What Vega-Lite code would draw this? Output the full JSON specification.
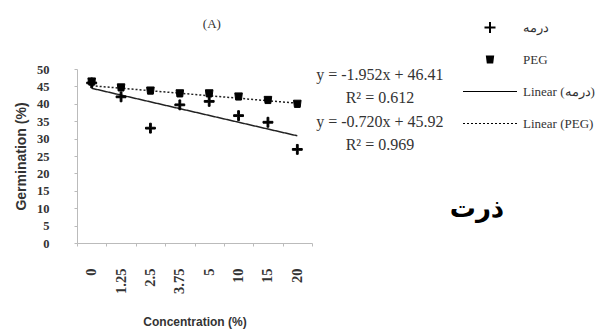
{
  "$schema": "https://vega.github.io/schema/vega-lite/v6.json",
  "width": 235,
  "height": 174,
  "autosize": {"type": "none"},
  "padding": {"left": 77, "top": 69, "right": 299, "bottom": 88},
  "background": "white",
  "config": {"view": {"stroke": null}},
  "layer": [
    {
      "layer": [
        {
          "data": {"values": [
            {"concentration": "0", "value": 44.46, "series": "Linear (درمه)"},
            {"concentration": "20", "value": 30.8, "series": "Linear (درمه)"},
            {"concentration": "0", "value": 45.2, "series": "Linear (PEG)"},
            {"concentration": "20", "value": 40.16, "series": "Linear (PEG)"}
          ]},
          "mark": {"type": "line", "color": "#222", "strokeWidth": 1.5},
          "encoding": {
            "x": {"field": "concentration", "type": "ordinal", "sort": ["0", "1.25", "2.5", "3.75", "5", "10", "15", "20"],
              "scale": {"type": "band", "domain": ["0", "1.25", "2.5", "3.75", "5", "10", "15", "20"], "paddingInner": 0, "paddingOuter": 0},
              "axis": {"labelAngle": 270, "labelFont": "Liberation Serif", "labelFontSize": 14.5, "labelFontWeight": "bold", "labelColor": "#333", "labelPadding": 22,
                "domainColor": "#bbb", "tickColor": "#bbb", "tickSize": 3, "tickBand": "extent", "grid": false,
                "title": "Concentration (%)", "titleFont": "Liberation Sans", "titleFontSize": 12, "titleFontWeight": "bold", "titleColor": "#333", "titleY": 73, "titleBaseline": "top"}},
            "y": {"field": "value", "type": "quantitative", "scale": {"domain": [0, 50]},
              "axis": {"values": [0, 5, 10, 15, 20, 25, 30, 35, 40, 45, 50], "tickCount": 11, "labelOverlap": false, "labelFont": "Liberation Serif", "labelFontSize": 12.5, "labelFontWeight": "bold", "labelColor": "#333", "labelPadding": 25,
                "domainColor": "#bbb", "tickColor": "#bbb", "tickSize": 3, "grid": false,
                "title": "Germination (%)", "titleFont": "Liberation Sans", "titleFontSize": 14, "titleFontWeight": "bold", "titleColor": "#333", "titleX": -49, "titleBaseline": "bottom"}},
            "strokeDash": {"field": "series", "type": "nominal", "scale": {"domain": ["Linear (درمه)", "Linear (PEG)"], "range": [[1, 0], [2, 2]]}, "legend": null}
          }
        },
        {
          "data": {"values": [
            {"concentration": "0", "value": 46, "series": "درمه"},
            {"concentration": "1.25", "value": 42, "series": "درمه"},
            {"concentration": "2.5", "value": 33, "series": "درمه"},
            {"concentration": "3.75", "value": 39.7, "series": "درمه"},
            {"concentration": "5", "value": 40.7, "series": "درمه"},
            {"concentration": "10", "value": 36.6, "series": "درمه"},
            {"concentration": "15", "value": 34.7, "series": "درمه"},
            {"concentration": "20", "value": 26.9, "series": "درمه"},
            {"concentration": "0", "value": 46.4, "series": "PEG"},
            {"concentration": "1.25", "value": 44.7, "series": "PEG"},
            {"concentration": "2.5", "value": 43.8, "series": "PEG"},
            {"concentration": "3.75", "value": 43, "series": "PEG"},
            {"concentration": "5", "value": 43, "series": "PEG"},
            {"concentration": "10", "value": 42.1, "series": "PEG"},
            {"concentration": "15", "value": 41.1, "series": "PEG"},
            {"concentration": "20", "value": 40, "series": "PEG"}
          ]},
          "mark": {"type": "point", "filled": true, "color": "black", "opacity": 1, "size": 324, "stroke": "black", "strokeWidth": 1},
          "encoding": {
            "x": {"field": "concentration", "type": "ordinal", "sort": ["0", "1.25", "2.5", "3.75", "5", "10", "15", "20"],
              "scale": {"type": "band", "domain": ["0", "1.25", "2.5", "3.75", "5", "10", "15", "20"], "paddingInner": 0, "paddingOuter": 0},
              "axis": {"labelAngle": 270, "labelFont": "Liberation Serif", "labelFontSize": 14.5, "labelFontWeight": "bold", "labelColor": "#333", "labelPadding": 22,
                "domainColor": "#bbb", "tickColor": "#bbb", "tickSize": 3, "tickBand": "extent", "grid": false,
                "title": "Concentration (%)", "titleFont": "Liberation Sans", "titleFontSize": 12, "titleFontWeight": "bold", "titleColor": "#333", "titleY": 73, "titleBaseline": "top"}},
            "y": {"field": "value", "type": "quantitative", "scale": {"domain": [0, 50]},
              "axis": {"values": [0, 5, 10, 15, 20, 25, 30, 35, 40, 45, 50], "tickCount": 11, "labelOverlap": false, "labelFont": "Liberation Serif", "labelFontSize": 12.5, "labelFontWeight": "bold", "labelColor": "#333", "labelPadding": 25,
                "domainColor": "#bbb", "tickColor": "#bbb", "tickSize": 3, "grid": false,
                "title": "Germination (%)", "titleFont": "Liberation Sans", "titleFontSize": 14, "titleFontWeight": "bold", "titleColor": "#333", "titleX": -49, "titleBaseline": "bottom"}},
            "shape": {"field": "series", "type": "nominal",
              "scale": {"domain": ["درمه", "PEG", "Linear (درمه)", "Linear (PEG)"],
                "range": [
                  "M-0.55,-0.1H-0.1V-0.55H0.1V-0.1H0.55V0.1H0.1V0.55H-0.1V0.1H-0.55Z",
                  "M-0.42,-0.4H0.42L0.32,0.4H-0.32Z",
                  "M-2.7,-0.06H2.7V0.06H-2.7Z",
                  "M-2.7,-0.04H-2.5V0.04H-2.7ZM-2.3,-0.04H-2.1V0.04H-2.3ZM-1.9,-0.04H-1.7V0.04H-1.9ZM-1.5,-0.04H-1.3V0.04H-1.5ZM-1.1,-0.04H-0.9V0.04H-1.1ZM-0.7,-0.04H-0.5V0.04H-0.7ZM-0.3,-0.04H-0.1V0.04H-0.3ZM0.1,-0.04H0.3V0.04H0.1ZM0.5,-0.04H0.7V0.04H0.5ZM0.9,-0.04H1.1V0.04H0.9ZM1.3,-0.04H1.5V0.04H1.3ZM1.7,-0.04H1.9V0.04H1.7ZM2.1,-0.04H2.3V0.04H2.1ZM2.5,-0.04H2.7V0.04H2.5Z"
                ]},
              "legend": {"orient": "none", "legendX": 402.5, "legendY": -52, "title": null, "padding": 0,
                "symbolSize": 400, "symbolFillColor": "black", "symbolStrokeColor": "black", "symbolStrokeWidth": 1, "symbolOpacity": 1,
                "labelFont": "Liberation Serif", "labelFontSize": 13, "labelColor": "#333", "labelOffset": 22.5, "rowPadding": 14,
                "encode": {"symbols": {"update": {"fill": {"value": "black"}, "opacity": {"value": 1}}}}}}
          }
        }
      ]
    },
    {
      "data": {"values": [
        {"label": "y = -1.952x + 46.41", "ax": 1.289, "ay": 48.3},
        {"label": "R² = 0.612", "ax": 1.289, "ay": 41.7},
        {"label": "y = -0.720x + 45.92", "ax": 1.289, "ay": 34.9},
        {"label": "R² = 0.969", "ax": 1.289, "ay": 28.3}
      ]},
      "mark": {"type": "text", "font": "Liberation Serif", "fontSize": 16, "color": "#333", "align": "center", "baseline": "middle", "clip": false},
      "encoding": {
        "x": {"field": "ax", "type": "quantitative", "scale": {"domain": [0, 1], "nice": false, "zero": false}, "axis": null},
        "y": {"field": "ay", "type": "quantitative", "scale": {"domain": [0, 50], "nice": false, "zero": false}, "axis": null},
        "text": {"field": "label", "type": "nominal"}
      }
    },
    {
      "data": {"values": [
        {"label": "(A)", "ax": 0.574, "ay": 62.9}
      ]},
      "mark": {"type": "text", "font": "Liberation Serif", "fontSize": 13, "color": "#333", "align": "center", "baseline": "middle", "clip": false},
      "encoding": {
        "x": {"field": "ax", "type": "quantitative", "scale": {"domain": [0, 1], "nice": false, "zero": false}, "axis": null},
        "y": {"field": "ay", "type": "quantitative", "scale": {"domain": [0, 50], "nice": false, "zero": false}, "axis": null},
        "text": {"field": "label", "type": "nominal"}
      }
    },
    {
      "data": {"values": [
        {"label": "ذرت", "ax": 1.702, "ay": 9.7}
      ]},
      "mark": {"type": "text", "font": "DejaVu Sans", "fontSize": 26, "fontWeight": "bold", "color": "black", "align": "center", "baseline": "middle", "clip": false},
      "encoding": {
        "x": {"field": "ax", "type": "quantitative", "scale": {"domain": [0, 1], "nice": false, "zero": false}, "axis": null},
        "y": {"field": "ay", "type": "quantitative", "scale": {"domain": [0, 50], "nice": false, "zero": false}, "axis": null},
        "text": {"field": "label", "type": "nominal"}
      }
    }
  ],
  "resolve": {"scale": {"x": "independent", "y": "independent"}}
}
